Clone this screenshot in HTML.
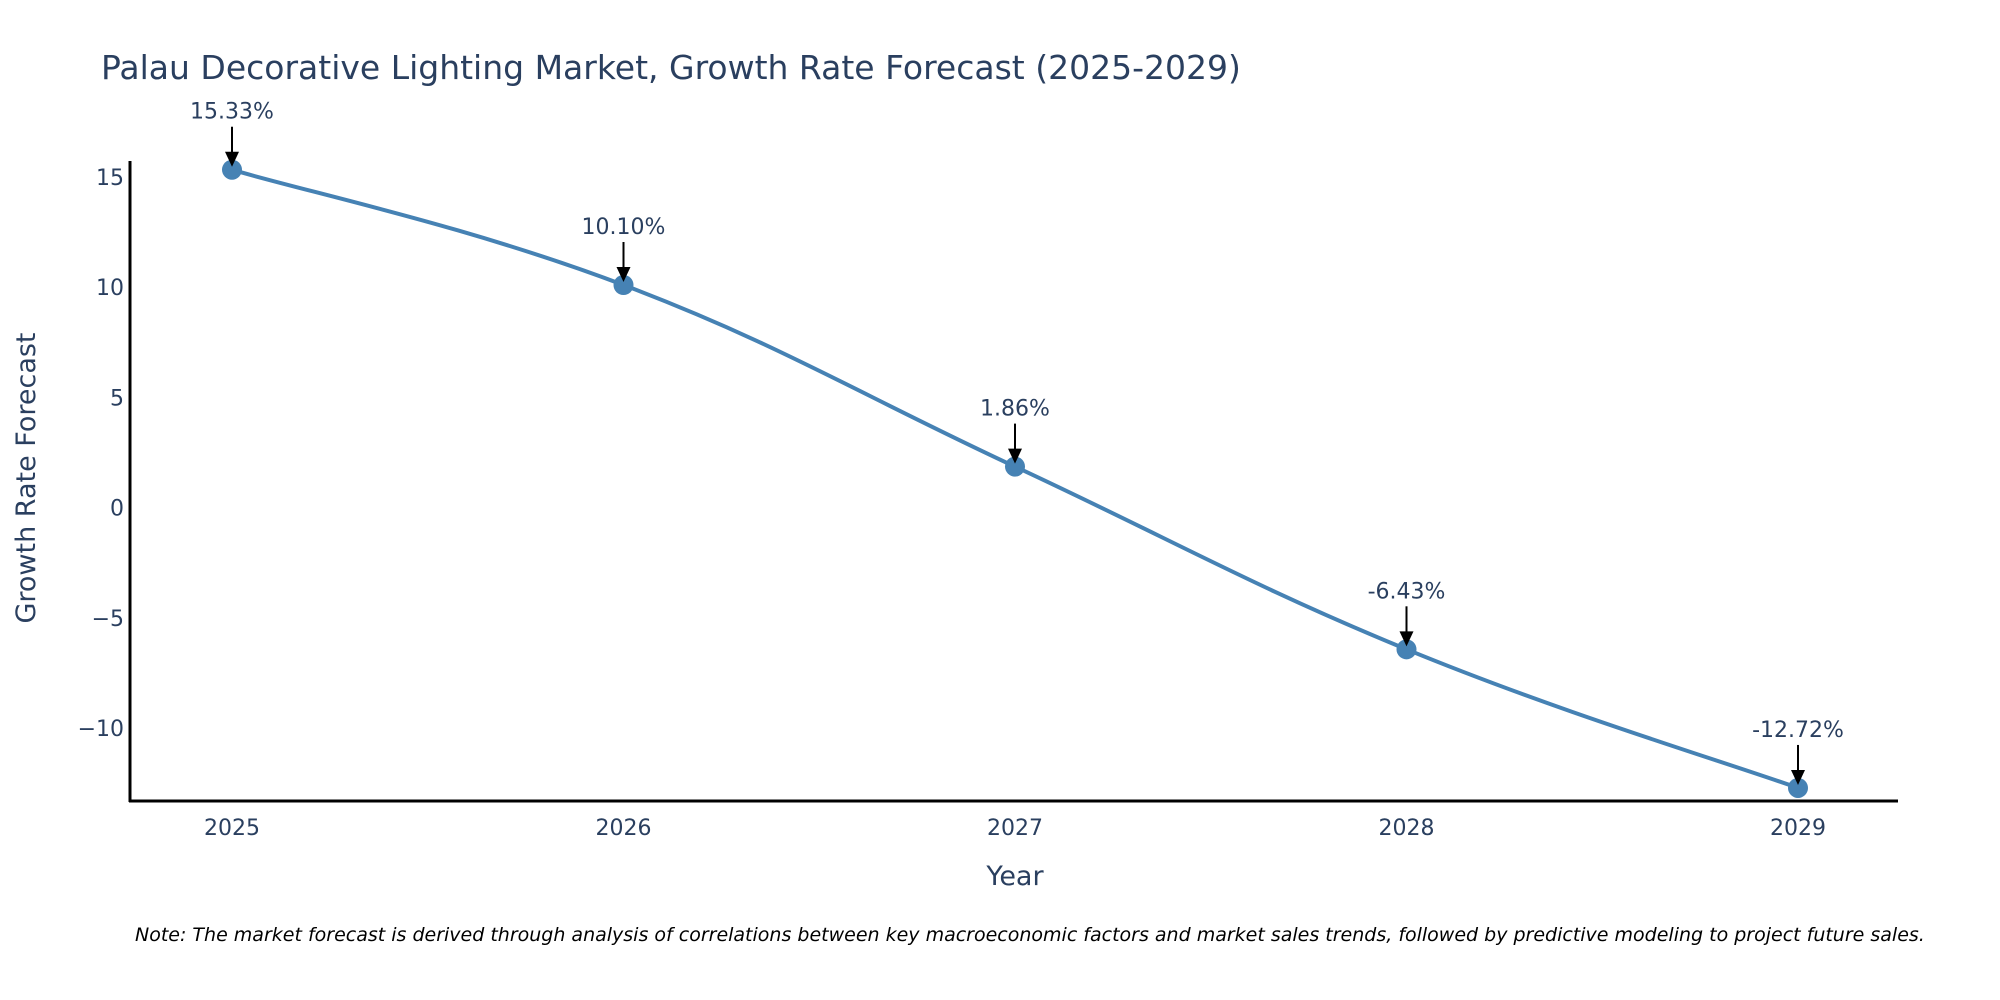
<!DOCTYPE html>
<html><head><meta charset="utf-8"><style>
html,body{margin:0;padding:0;background:#fff;}
svg{display:block;font-family:"DejaVu Sans","Liberation Sans",sans-serif;}
</style></head><body>
<svg id="chart" width="2000" height="1000">
<text x="101" y="79" font-size="33" fill="#2a3f5f">Palau Decorative Lighting Market, Growth Rate Forecast (2025-2029)</text>
<g id="axes"></g>
<g id="series"></g>
<text x="1015" y="885" font-size="27" fill="#2a3f5f" text-anchor="middle">Year</text>
<text transform="translate(35,478) rotate(-90)" font-size="27" fill="#2a3f5f" text-anchor="middle">Growth Rate Forecast</text>
<text x="135" y="941" font-size="19" font-style="italic" fill="#000">Note: The market forecast is derived through analysis of correlations between key macroeconomic factors and market sales trends, followed by predictive modeling to project future sales.</text>
</svg>
<script>
const years = [2025, 2026, 2027, 2028, 2029];
const growth = [15.33, 10.10, 1.86, -6.43, -12.72];
const labels = ["15.33%", "10.10%", "1.86%", "-6.43%", "-12.72%"];
const yTicks = [15, 10, 5, 0, -5, -10];
const yTickLabels = ["15", "10", "5", "0", "\u22125", "\u221210"];

const NS = "http://www.w3.org/2000/svg";
const X0 = 130, X1 = 1898, YT = 161, YB = 801;
function xs(v){ return 232 + (v - 2025) * 391.5; }
function ys(v){ return 507.6 - v * 22.04; }
function mk(tag, attrs, parent){ const e = document.createElementNS(NS, tag); for (const k in attrs) e.setAttribute(k, attrs[k]); parent.appendChild(e); return e; }

const axes = document.getElementById('axes');
const yl = mk('line', {x1:X0, y1:YT, x2:X0, y2:YB+1, stroke:'#000', 'stroke-width':3}, axes);


const xl = mk('line', {x1:X0-1, y1:YB, x2:X1, y2:YB, stroke:'#000', 'stroke-width':3}, axes);


yTicks.forEach((t, i) => {
  const tx = mk('text', {x:124, y:ys(t)+8, 'font-size':22, fill:'#2a3f5f', 'text-anchor':'end'}, axes);
  tx.textContent = yTickLabels[i];
  
  
});
years.forEach(y => {
  const tx = mk('text', {x:xs(y), y:835, 'font-size':22, fill:'#2a3f5f', 'text-anchor':'middle'}, axes);
  tx.textContent = String(y);
  
  
});

const series = document.getElementById('series');
const pts = years.map((y, i) => [xs(y), ys(growth[i])]);
let d = 'M' + pts[0][0] + ',' + pts[0][1];
const s = 0.2;
for (let i = 0; i < pts.length - 1; i++) {
  const p0 = pts[Math.max(0, i-1)], p1 = pts[i], p2 = pts[i+1], p3 = pts[Math.min(pts.length-1, i+2)];
  const c1 = [p1[0] + (p2[0]-p0[0])*s, p1[1] + (p2[1]-p0[1])*s];
  const c2 = [p2[0] - (p3[0]-p1[0])*s, p2[1] - (p3[1]-p1[1])*s];
  d += ' C' + c1 + ' ' + c2 + ' ' + p2;
}
const line = mk('path', {d:d, fill:'none', stroke:'#4682b4', 'stroke-width':4}, series);


pts.forEach((p, i) => {
  const c = mk('circle', {cx:p[0], cy:p[1], r:10, fill:'#4682b4'}, series);
  
  
  const a = mk('line', {x1:p[0], y1:p[1]-43, x2:p[0], y2:p[1]-16, stroke:'#000', 'stroke-width':2}, series);
  
  
  const h = mk('polygon', {points:(p[0]-7)+','+(p[1]-18)+' '+(p[0]+7)+','+(p[1]-18)+' '+p[0]+','+(p[1]-3), fill:'#000'}, series);
  
  
  const t = mk('text', {x:p[0], y:p[1]-51, 'font-size':22, fill:'#2a3f5f', 'text-anchor':'middle'}, series);
  t.textContent = labels[i];
  
  
});
</script>
</body></html>
